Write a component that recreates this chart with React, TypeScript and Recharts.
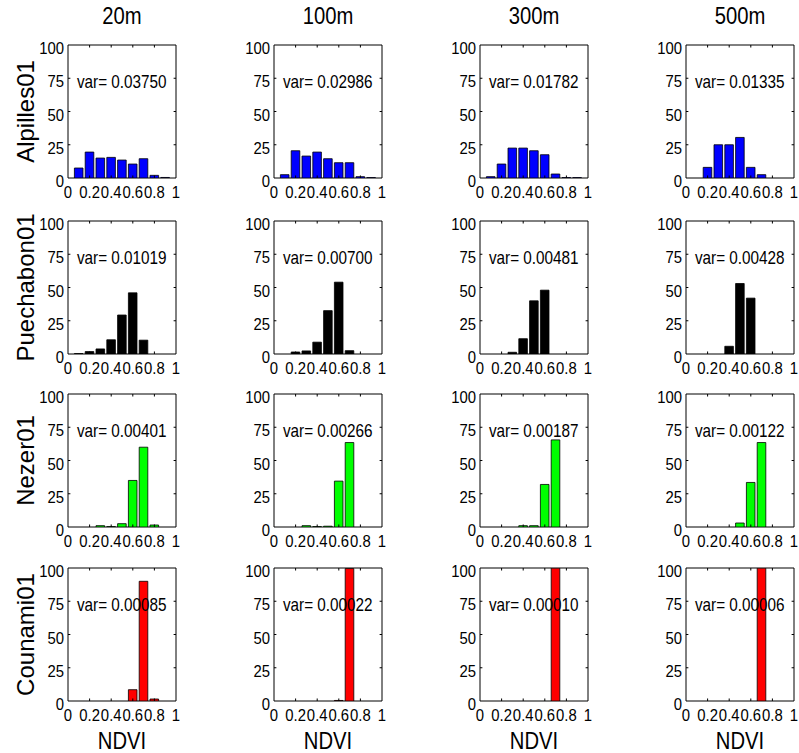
import { Bar, BarChart, ReferenceArea, ReferenceDot, ReferenceLine, XAxis, YAxis } from "recharts";

// NDVI histograms (% of pixels) per site and spatial resolution
const RESOLUTIONS = ["20m", "100m", "300m", "500m"];
const SITES = ["Alpilles01", "Puechabon01", "Nezer01", "Counami01"];
const SITE_COLORS = ["#0000ff", "#000000", "#00ff00", "#ff0000"];

const NDVI_BINS = [0.1, 0.2, 0.3, 0.4, 0.5, 0.6, 0.7, 0.8, 0.9];
const X_TICKS = [0, 0.2, 0.4, 0.6, 0.8, 1];
const X_TICK_LABELS = ["0", "0.2", "0.4", "0.6", "0.8", "1"];
const Y_TICKS = [0, 25, 50, 75, 100];

const ALPILLES = [
  [7.5, 19.5, 15, 15.5, 13.5, 10.5, 14.5, 2, 0.4],
  [2.5, 20.5, 16.5, 19.5, 14.5, 11.5, 11.5, 1, 0.3],
  [1, 10.5, 22.5, 22.5, 20.5, 17.5, 3, 0.3, 0.3],
  [0, 8, 25, 25, 30.5, 8, 2.5, 0, 0],
];
const PUECHABON = [
  [0.3, 1.8, 3.8, 10.7, 29.3, 46, 10.4, 0, 0],
  [0, 1.5, 2.3, 8.9, 32.6, 54, 2.5, 0, 0],
  [0, 0, 1.3, 11.5, 40, 48, 0, 0, 0],
  [0, 0, 0, 5.8, 53, 42, 0, 0, 0],
];
const NEZER = [
  [0, 0, 1, 0.3, 2.5, 35, 60, 1.5, 0],
  [0, 0, 1, 0.3, 0.6, 34.5, 63.5, 0, 0],
  [0, 0, 0, 1, 1, 32, 65.5, 0, 0],
  [0, 0, 0, 0, 3, 33.5, 63.5, 0, 0],
];
const COUNAMI = [
  [0, 0, 0, 0, 0, 8.5, 90, 1.5, 0],
  [0, 0, 0, 0, 0, 0.4, 99.6, 0, 0],
  [0, 0, 0, 0, 0, 0, 99.9, 0, 0],
  [0, 0, 0, 0, 0, 0, 99.9, 0, 0],
];
const HISTS = [ALPILLES, PUECHABON, NEZER, COUNAMI];

const VAR_ALPILLES = ["0.03750", "0.02986", "0.01782", "0.01335"];
const VAR_PUECHABON = ["0.01019", "0.00700", "0.00481", "0.00428"];
const VAR_NEZER = ["0.00401", "0.00266", "0.00187", "0.00122"];
const VAR_COUNAMI = ["0.00085", "0.00022", "0.00010", "0.00006"];
const VARS = [VAR_ALPILLES, VAR_PUECHABON, VAR_NEZER, VAR_COUNAMI];

// layout
const PLOT_LEFT = [68, 274, 480, 686];
const PLOT_TOP = [45, 221, 394, 568];
const PLOT_W = 108;
const PLOT_H = 133;
const Y_AXIS_W = 40;
const X_AXIS_H = 32;
const M_TOP = 10;
const M_RIGHT = 6;
const FONT = '"Liberation Sans", Arial, Helvetica, sans-serif';
const TICK_FONT = 16;
const TICK_SQUEEZE = 0.93;
const TITLE_SQUEEZE = 0.88;
const TICK_X = 0.022; // inward tick length, x units
const TICK_Y = 1.9; // inward tick length, y units

const XTick = (props: any) => {
  const { x, y, index } = props;
  return (
    <g transform={`translate(${x},${y + 14})`}>
      <text
        transform={`scale(${TICK_SQUEEZE},1)`}
        textAnchor="middle"
        dominantBaseline="central"
        fontSize={TICK_FONT}
        fontFamily={FONT}
        fill="#000"
      >
        {X_TICK_LABELS[index]}
      </text>
    </g>
  );
};

const YTick = (props: any) => {
  const { x, y, payload } = props;
  return (
    <g transform={`translate(${x},${y + 3.5})`}>
      <text
        transform={`scale(${TICK_SQUEEZE},1)`}
        textAnchor="end"
        dominantBaseline="central"
        fontSize={TICK_FONT}
        fontFamily={FONT}
        fill="#000"
      >
        {payload.value}
      </text>
    </g>
  );
};

function Panel({ row, col }: { row: number; col: number }) {
  const values = HISTS[row][col];
  const data = NDVI_BINS.map((b, i) => ({ ndvi: b, pct: values[i] }));
  const varText = `var= ${VARS[row][col]}`;
  return (
    <div
      style={{
        position: "absolute",
        left: PLOT_LEFT[col] - Y_AXIS_W,
        top: PLOT_TOP[row] - M_TOP,
      }}
    >
      <BarChart
        width={Y_AXIS_W + PLOT_W + M_RIGHT}
        height={M_TOP + PLOT_H + X_AXIS_H}
        data={data}
        margin={{ top: M_TOP, right: M_RIGHT, left: 0, bottom: 0 }}
      >
        <XAxis
          dataKey="ndvi"
          type="number"
          domain={[0, 1]}
          ticks={X_TICKS}
          interval={0}
          tickLine={false}
          axisLine={false}
          tickSize={0}
          tickMargin={0}
          height={X_AXIS_H}
          tick={(p: any) => <XTick {...p} />}
        />
        <YAxis
          type="number"
          domain={[0, 100]}
          ticks={Y_TICKS}
          interval={0}
          tickLine={false}
          axisLine={false}
          tickSize={0}
          tickMargin={4}
          width={Y_AXIS_W}
          allowDataOverflow
          tick={(p: any) => <YTick {...p} />}
        />
        <Bar
          dataKey="pct"
          fill={SITE_COLORS[row]}
          stroke="#000"
          strokeWidth={0.8}
          barSize={8.6}
          isAnimationActive={false}
        />
        <ReferenceDot
          x={0.083}
          y={72.5}
          r={0}
          ifOverflow="visible"
          shape={(p: any) => (
            <g transform={`translate(${p.cx},${p.cy})`}>
              <text
                transform="scale(0.85,1)"
                textAnchor="start"
                dominantBaseline="central"
                fontSize={18}
                fontFamily={FONT}
                fill="#000"
              >
                {varText}
              </text>
            </g>
          )}
        />
        {X_TICKS.slice(1, -1).map((t) => (
          <ReferenceLine
            key={`xb${t}`}
            segment={[{ x: t, y: 0 }, { x: t, y: TICK_Y }]}
            stroke="#000"
            strokeWidth={1}
          />
        ))}
        {X_TICKS.slice(1, -1).map((t) => (
          <ReferenceLine
            key={`xt${t}`}
            segment={[{ x: t, y: 100 }, { x: t, y: 100 - TICK_Y }]}
            stroke="#000"
            strokeWidth={1}
          />
        ))}
        {Y_TICKS.slice(1, -1).map((t) => (
          <ReferenceLine
            key={`yl${t}`}
            segment={[{ x: 0, y: t }, { x: TICK_X, y: t }]}
            stroke="#000"
            strokeWidth={1}
          />
        ))}
        {Y_TICKS.slice(1, -1).map((t) => (
          <ReferenceLine
            key={`yr${t}`}
            segment={[{ x: 1, y: t }, { x: 1 - TICK_X, y: t }]}
            stroke="#000"
            strokeWidth={1}
          />
        ))}
        <ReferenceArea
          x1={0}
          x2={1}
          y1={0}
          y2={100}
          fill="none"
          fillOpacity={0}
          stroke="#000"
          strokeWidth={1}
          ifOverflow="visible"
        />
      </BarChart>
    </div>
  );
}

export default function App() {
  return (
    <div
      style={{
        position: "absolute",
        left: 0,
        top: 0,
        width: 799,
        height: 753,
        overflow: "hidden",
        background: "#fff",
        fontFamily: FONT,
      }}
    >
      {SITES.map((_, r) =>
        RESOLUTIONS.map((_, c) => <Panel key={`${r}-${c}`} row={r} col={c} />),
      )}
      <svg
        width={799}
        height={753}
        style={{ position: "absolute", left: 0, top: 0, pointerEvents: "none" }}
      >
        {RESOLUTIONS.map((res, c) => (
          <g key={res} transform={`translate(${PLOT_LEFT[c] + PLOT_W / 2},16)`}>
            <text
              transform={`scale(${TITLE_SQUEEZE},1)`}
              textAnchor="middle"
              dominantBaseline="central"
              fontSize={23}
              fontFamily={FONT}
              fill="#000"
            >
              {res}
            </text>
          </g>
        ))}
        {SITES.map((site, r) => (
          <text
            key={site}
            transform={`translate(25,${PLOT_TOP[r] + PLOT_H / 2}) rotate(-90)`}
            textAnchor="middle"
            dominantBaseline="central"
            fontSize={24}
            fontFamily={FONT}
            fill="#000"
          >
            {site}
          </text>
        ))}
        {RESOLUTIONS.map((res, c) => (
          <g key={`nd${res}`} transform={`translate(${PLOT_LEFT[c] + PLOT_W / 2},741)`}>
            <text
              transform={`scale(${TITLE_SQUEEZE},1)`}
              textAnchor="middle"
              dominantBaseline="central"
              fontSize={23}
              fontFamily={FONT}
              fill="#000"
            >
              NDVI
            </text>
          </g>
        ))}
      </svg>
    </div>
  );
}
